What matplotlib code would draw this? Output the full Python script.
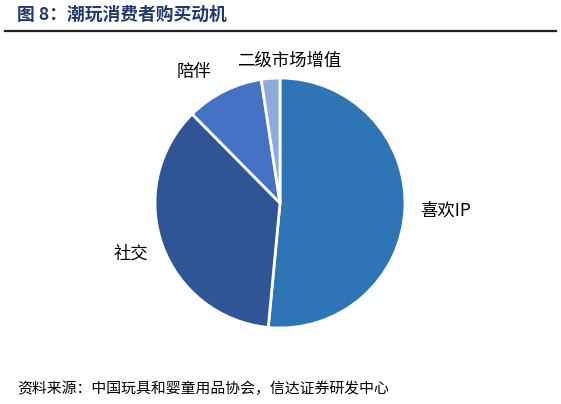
import matplotlib.pyplot as plt
from matplotlib.lines import Line2D

plt.rcParams["font.family"] = ["Noto Sans CJK SC", "DejaVu Sans"]

# data (share, %)
labels = ["喜欢IP", "社交", "陪伴", "二级市场增值"]
shares = [51.5, 36.1, 10.0, 2.4]
colors = ["#2E75B6", "#2F5597", "#4472C4", "#8FAADC"]

title = "图 8：潮玩消费者购买动机"
source = "资料来源：中国玩具和婴童用品协会，信达证券研发中心"

W, H = 561, 404
fig = plt.figure(figsize=(W / 100, H / 100), dpi=100)
ax = fig.add_axes([0, 0, 1, 1])

# pie in pixel-like data coordinates
cx, cy, r = 280, H - 203, 125
ax.pie(shares, colors=colors, startangle=90, counterclock=False,
       center=(cx, cy), radius=r,
       wedgeprops=dict(edgecolor="white", linewidth=2))
ax.set_xlim(0, W)
ax.set_ylim(0, H)
ax.set_aspect("equal")
ax.axis("off")

# label anchors (pixels from top-left), vertical centre
label_pos = [(420, 211, "left"), (148, 254, "right"),
             (211, 72, "right"), (289, 61, "center")]
for lab, (x, y, ha) in zip(labels, label_pos):
    ax.text(x, H - y, lab, ha=ha, va="center", fontsize=12.5, color="black")

# header
fig.text(17 / W, 1 - 15 / H, title, ha="left", va="center",
         fontsize=12.8, fontweight="bold", color="#1F3A6E")
fig.add_artist(Line2D([5 / W, 556 / W], [1 - 30.5 / H, 1 - 30.5 / H],
                      color="#222222", linewidth=1.6))

# footer
fig.text(17 / W, 1 - 389 / H, source, ha="left", va="center",
         fontsize=10.7, color="black", style="italic")

fig.savefig("out.png", dpi=100)
